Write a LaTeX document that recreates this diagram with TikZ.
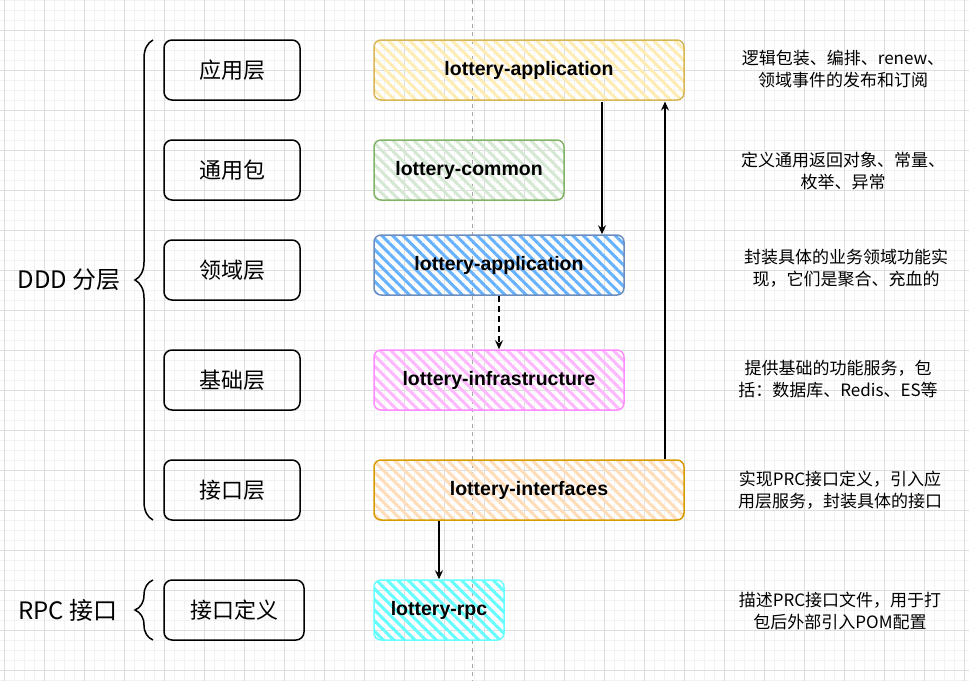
\documentclass[tikz,border=0pt]{standalone}
\usepackage{fontspec}
\setmainfont{Liberation Sans}
\newfontfamily\cjk{Noto Sans CJK SC}
\usetikzlibrary{arrows.meta,patterns.meta,decorations.pathreplacing}

\definecolor{ylwline}{HTML}{D6B656}
\definecolor{ylwfill}{HTML}{FFECB3}
\definecolor{grnline}{HTML}{82B366}
\definecolor{grnfill}{HTML}{D5E8D4}
\definecolor{bluline}{HTML}{6C8EBF}
\definecolor{blufill}{HTML}{66B2FF}
\definecolor{pnkline}{HTML}{FF8CFF}
\definecolor{pnkfill}{HTML}{FFB8FF}
\definecolor{orgline}{HTML}{D79B00}
\definecolor{orgfill}{HTML}{FFDDB8}
\definecolor{cyaline}{HTML}{66FFFF}
\definecolor{cyafill}{HTML}{66FFFF}

\begin{document}
\begin{tikzpicture}[x=1pt,y=-1pt,>={Stealth[length=9pt,width=8pt,inset=3pt]},
                    line width=1.5pt]
  \tikzstyle{majgrid}=[draw=black!13,line width=0.8pt]
  \tikzstyle{mingrid}=[draw=black!5,line width=0.8pt]
  \tikzstyle{layer}=[draw,rounded corners=8pt,minimum height=60pt,
                     font=\cjk\fontsize{22}{26}\selectfont]
  \tikzstyle{pkg}=[draw,rounded corners=7pt,minimum height=60pt,
                   font=\bfseries\fontsize{19.5}{22}\selectfont]
  \tikzstyle{hatch}=[pattern={Lines[angle=-45,distance=7.5pt,line width=3pt]}]
  \tikzstyle{note}=[align=center,font=\cjk\fontsize{17}{22.5}\selectfont]
  \tikzstyle{grp}=[font=\cjk\fontsize{24}{28}\selectfont]
  \tikzstyle{curly}=[decorate,decoration={brace,amplitude=18pt}]

  \useasboundingbox (0,0) rectangle (969,681);
  % background grid
  \foreach \gx in {4,14,...,964} \draw[mingrid] (\gx,0) -- (\gx,681);
  \foreach \gy in {0,10,...,680} \draw[mingrid] (0,\gy) -- (969,\gy);
  \foreach \gx in {4,44,...,964} \draw[majgrid] (\gx,0) -- (\gx,681);
  \foreach \gy in {30,70,...,670} \draw[majgrid] (0,\gy) -- (969,\gy);
  \draw[black!35,line width=0.8pt,dash pattern=on 4pt off 4pt] (472,0) -- (472,681);

  % layer names
  \node[layer,minimum width=136pt] (app)  at (232,70)  {应用层};
  \node[layer,minimum width=136pt] (cmn)  at (232,170) {通用包};
  \node[layer,minimum width=136pt] (dom)  at (232,270) {领域层};
  \node[layer,minimum width=136pt] (infr) at (232,380) {基础层};
  \node[layer,minimum width=136pt] (intf) at (232,490) {接口层};
  \node[layer,minimum width=140pt] (rpc)  at (234,610) {接口定义};

  % braces
  \node[grp] (ddd) at (69,280) {DDD 分层};
  \node[grp] (rpcgrp) at (68,610) {RPC 接口};
  \coordinate (b1) at (153,520);
  \coordinate (b2) at (153,40);
  \coordinate (b3) at (153,640);
  \coordinate (b4) at (153,580);
  \draw[curly] (b1) -- (b2);
  \draw[curly] (b3) -- (b4);

  % modules
  \node[pkg,hatch,pattern color=ylwfill,draw=ylwline,minimum width=310pt] (mapp) at (529,70) {lottery-application};
  \node[pkg,hatch,pattern color=grnfill,draw=grnline,minimum width=190pt] (mcmn) at (469,170) {lottery-common};
  \node[pkg,hatch,pattern color=blufill,draw=bluline,minimum width=250pt] (mdom) at (499,265) {lottery-application};
  \node[pkg,hatch,pattern color=pnkfill,draw=pnkline,minimum width=250pt] (minf) at (499,380) {lottery-infrastructure};
  \node[pkg,hatch,pattern color=orgfill,draw=orgline,minimum width=310pt] (mint) at (529,490) {lottery-interfaces};
  \node[pkg,hatch,pattern color=cyafill,draw=cyaline,minimum width=130pt] (mrpc) at (439,610) {lottery-rpc};

  % notes
  \node[note] (n1) at (843,69)  {逻辑包装、编排、renew、\\领域事件的发布和订阅};
  \node[note] (n2) at (843,171) {定义通用返回对象、常量、\\枚举、异常};
  \node[note] (n3) at (846,268) {封装具体的业务领域功能实\\现，它们是聚合、充血的};
  \node[note] (n4) at (838,379) {提供基础的功能服务，包\\括：数据库、Redis、ES等};
  \node[note] (n5) at (840,490) {实现PRC接口定义，引入应\\用层服务，封装具体的接口};
  \node[note] (n6) at (840,611) {描述PRC接口文件，用于打\\包后外部引入POM配置};

  % dependencies
  \coordinate (down) at (602,0);
  \coordinate (up) at (665,0);
  \draw[->] (mapp.south -| down) -- (mdom.north -| down);
  \draw[->] (mint.north -| up) -- (mapp.south -| up);
  \draw[->,dash pattern=on 6pt off 4pt] (mdom) -- (minf);
  \draw[->] (mint.south -| mrpc) -- (mrpc);
\end{tikzpicture}
\end{document}
